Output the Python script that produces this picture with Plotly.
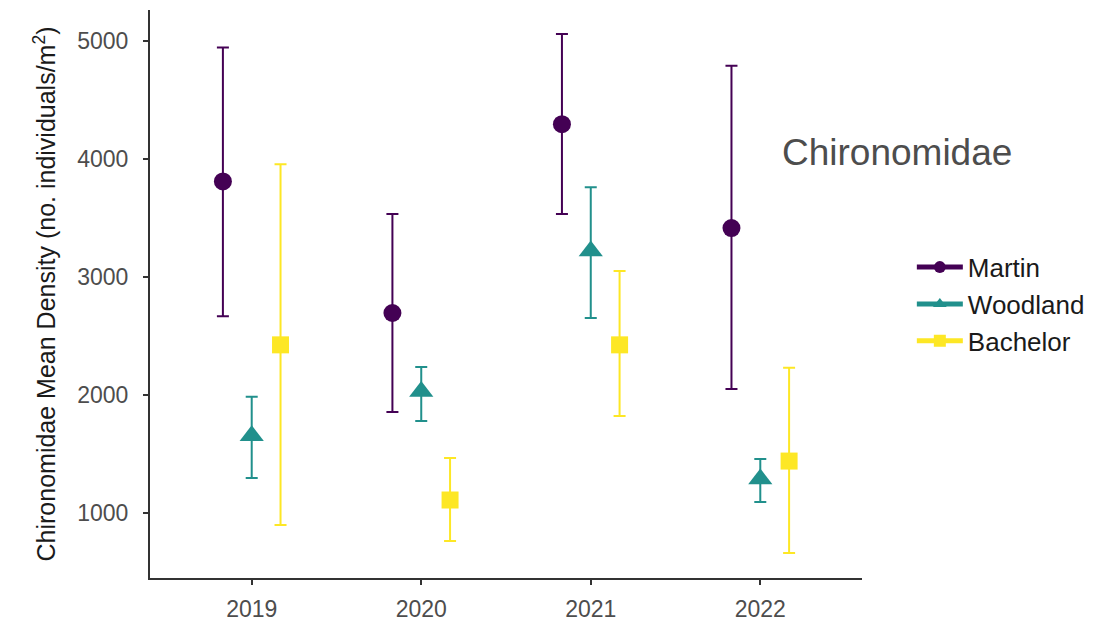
import plotly.graph_objects as go

years = ["2019", "2020", "2021", "2022"]
sites = ["Martin", "Woodland", "Bachelor"]
means = {
    "Martin":   [3810, 2695, 4295, 3415],
    "Woodland": [1655, 2030, 3220, 1288],
    "Bachelor": [2425, 1110, 2425, 1440],
}
upper = {
    "Martin":   [4945, 3535, 5060, 4790],
    "Woodland": [1985, 2237, 3760, 1458],
    "Bachelor": [3955, 1466, 3050, 2230],
}
lower = {
    "Martin":   [2668, 1855, 3535, 2050],
    "Woodland": [1297, 1780, 2653, 1093],
    "Bachelor": [898, 763, 1822, 661],
}
colors = {"Martin": "#440154", "Woodland": "#21908C", "Bachelor": "#FDE725"}
symbols = {"Martin": "circle", "Woodland": "triangle-up", "Bachelor": "square"}
sizes = {"Martin": 18, "Woodland": 21, "Bachelor": 17}
offsets = {"Martin": -0.17, "Woodland": 0.0, "Bachelor": 0.17}

fig = go.Figure()
for s in sites:
    xs = [i + offsets[s] for i in range(len(years))]
    fig.add_trace(go.Scatter(
        x=xs, y=means[s], mode="markers", name=s, showlegend=False,
        marker=dict(color=colors[s], symbol=symbols[s], size=sizes[s], line=dict(width=0)),
        error_y=dict(type="data", symmetric=False,
                     array=[u - m for u, m in zip(upper[s], means[s])],
                     arrayminus=[m - l for m, l in zip(means[s], lower[s])],
                     color=colors[s], thickness=2, width=6),
    ))
# legend entries (point + range line)
for s in sites:
    fig.add_trace(go.Scatter(
        x=[None], y=[None], mode="lines+markers", name=s, showlegend=True,
        line=dict(color=colors[s], width=2),
        marker=dict(color=colors[s], symbol=symbols[s], size=sizes[s] - 2, line=dict(width=0)),
    ))

fig.update_layout(
    width=1113, height=622,
    margin=dict(l=150, r=251, t=10, b=44),
    paper_bgcolor="white", plot_bgcolor="white",
    font=dict(family="Liberation Sans, Arial, sans-serif", color="#4d4d4d"),
    xaxis=dict(range=[-0.6, 3.6], tickvals=list(range(len(years))), ticktext=years,
               automargin=False,
               showgrid=False, zeroline=False, showline=True, linecolor="#333333", linewidth=2,
               ticks="outside", ticklen=5, tickcolor="#333333", tickwidth=2,
               ticklabelstandoff=4,
               tickfont=dict(size=23, color="#4d4d4d")),
    yaxis=dict(range=[449, 5263], tickvals=[1000, 2000, 3000, 4000, 5000],
               automargin=False,
               showgrid=False, zeroline=False, showline=True, linecolor="#333333", linewidth=2,
               ticks="outside", ticklen=5, tickcolor="#333333", tickwidth=2,
               ticklabelstandoff=10,
               tickfont=dict(size=23, color="#4d4d4d"),
               title=dict(text="Chironomidae Mean Density (no. individuals/m<sup>2</sup>)",
                          font=dict(size=25, color="#1a1a1a"), standoff=14)),
    legend=dict(x=1.07, y=0.482, xanchor="left", yanchor="middle",
                font=dict(size=26, color="#1a1a1a"), bgcolor="rgba(0,0,0,0)",
                itemsizing="constant", itemwidth=46, tracegroupgap=0),
    showlegend=True,
    annotations=[dict(text="Chironomidae", x=1.049, y=0.75, xref="paper", yref="paper",
                      showarrow=False, font=dict(size=37, color="#4d4d4d"),
                      xanchor="center", yanchor="middle")],
)

fig.write_html("out.html")
